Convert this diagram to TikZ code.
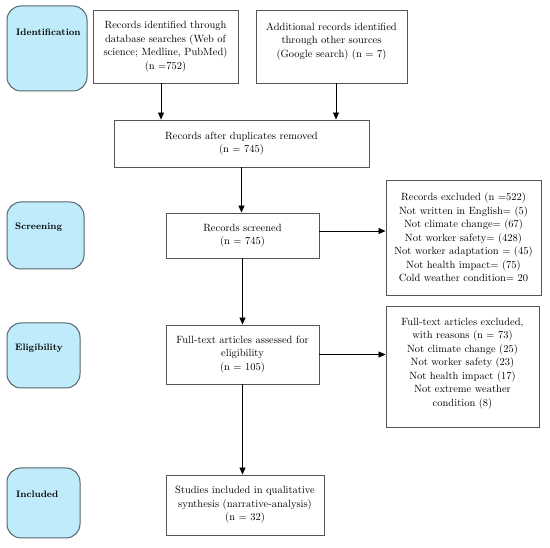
\documentclass[tikz,border=0pt]{standalone}
\usetikzlibrary{arrows.meta,calc}
\definecolor{stagefill}{HTML}{BFEBFB}
\definecolor{stageline}{HTML}{55666C}
\definecolor{boxline}{HTML}{555555}
\begin{document}
\begin{tikzpicture}[x=1pt,y=-1pt,
  every node/.style={font=\fontsize{10.5}{13.5}\selectfont, text=black},
  flowbox/.style={draw=boxline, line width=0.9pt, fill=white, align=center, inner sep=0pt},
  stagebox/.style={draw=stageline, line width=1pt, fill=stagefill, rounded corners=14pt, inner sep=0pt},
  stagetext/.style={anchor=west, font=\fontsize{9.4}{13.5}\selectfont\bfseries, inner sep=0pt},
  arr/.style={draw=black, line width=0.8pt, -{Triangle[length=7pt,width=6pt]}}]
\useasboundingbox (0,0) rectangle (550,548);
\fill[white] (0,0) rectangle (550,548);

% stage boxes
\node[stagebox, minimum width=80, minimum height=85] (s1) at (47,48.5) {};
\node[stagetext] (t1) at (16,32) {Identification};
\node[stagebox, minimum width=77, minimum height=67] (s2) at (45.5,235.5) {};
\node[stagetext] (t2) at (15,227) {Screening};
\node[stagebox, minimum width=73, minimum height=65] (s3) at (43.5,355.5) {};
\node[stagetext] (t3) at (15,348) {Eligibility};
\node[stagebox, minimum width=73, minimum height=70] (s4) at (43.5,503) {};
\node[stagetext] (t4) at (16,494) {Included};

% flow boxes
\node[flowbox, minimum width=145, minimum height=73] (A) at (165.5,46.5)
  {Records identified through\\ database searches (Web of\\ science; Medline, PubMed)\\ (n =752)};
\node[flowbox, minimum width=151, minimum height=73] (B) at (331.5,46.5)
  {Additional records identified\\ through other sources\\ (Google search) (n = 7)\\ \mbox{}};
\node[flowbox, minimum width=255, minimum height=47] (C) at (241.5,143.5)
  {Records after duplicates removed\\ (n = 745)};
\node[flowbox, minimum width=153, minimum height=45] (D) at (242.5,235.5)
  {Records screened\\ (n = 745)};
\node[flowbox, minimum width=155, minimum height=115] (E) at (463.5,237.5)
  {Records excluded (n =522)\\ Not written in English= (5)\\ Not climate change= (67)\\ Not worker safety= (428)\\ Not worker adaptation = (45)\\ Not health impact= (75)\\ Cold weather condition= 20};
\node[flowbox, minimum width=153, minimum height=59] (F) at (242.5,354.5)
  {Full-text articles assessed for\\ eligibility\\ (n = 105)};
\node[flowbox, minimum width=153, minimum height=121] (G) at (462.5,366.5)
  {Full-text articles excluded,\\ with reasons (n = 73)\\ Not climate change (25)\\ Not worker safety (23)\\ Not health impact (17)\\ Not extreme weather\\ condition (8)\\[-5pt] \mbox{}};
\node[flowbox, minimum width=158, minimum height=60] (H) at (245,505)
  {Studies included in qualitative\\ synthesis (narrative-analysis)\\ (n = 32)};

% connectors
\draw[arr] ([xshift=-4.5pt]A.south) -- ([xshift=-4.5pt]A.south |- C.north);
\draw[arr] ([xshift=4.5pt]B.south) -- ([xshift=4.5pt]B.south |- C.north);
\draw[arr] (C.south) -- (C.south |- D.north);
\draw[arr] ([yshift=4.5pt]D.east) -- ([yshift=4.5pt]D.east -| E.west);
\draw[arr] (D.south) -- (D.south |- F.north);
\draw[arr] (F.east) -- (F.east -| G.west);
\draw[arr] (F.south) -- (F.south |- H.north);
\end{tikzpicture}
\end{document}
